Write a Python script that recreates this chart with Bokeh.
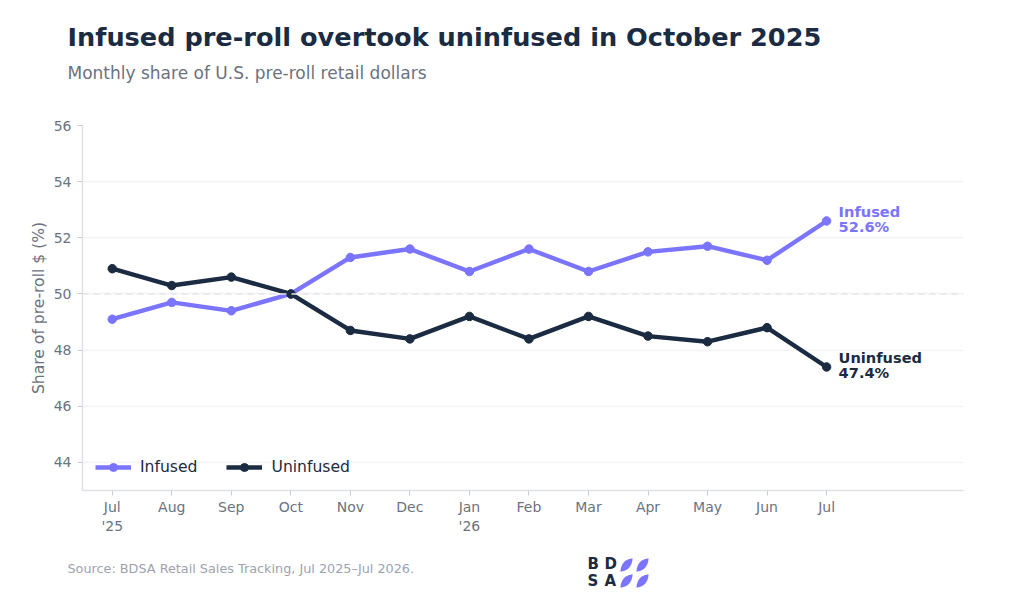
import math
from bokeh.plotting import figure
from bokeh.layouts import column
from bokeh.core.properties import value
from bokeh.models import FixedTicker, Legend, LegendItem, ColumnDataSource, Range1d, Span, LinearAxis
from bokeh.embed import file_html
from bokeh.resources import INLINE

months = ["Jul","Aug","Sep","Oct","Nov","Dec","Jan","Feb","Mar","Apr","May","Jun","Jul"]
year_marks = {0: "'25", 6: "'26"}
infused = [49.1,49.7,49.4,50.0,51.3,51.6,50.8,51.6,50.8,51.5,51.7,51.2,52.6]
uninfused = [50.9,50.3,50.6,50.0,48.7,48.4,49.2,48.4,49.2,48.5,48.3,48.8,47.4]
y_ticks = [44,46,48,50,52,54,56]
PURPLE = "#7B74FF"
NAVY = "#1A2B42"
GRAY = "#6B7280"
FONT = "DejaVu Sans"
W, H = 1024, 594
HEAD, FOOT = 100, 54
xs = list(range(len(months)))

def blank(height, top):
    f = figure(width=W, height=height, output_backend="svg", toolbar_location=None,
               x_range=Range1d(0, W), y_range=Range1d(top + height, top),
               min_border=0, background_fill_color="white", border_fill_color="white",
               frame_align=False)
    f.outline_line_color = None
    f.axis.visible = False
    f.grid.visible = False
    return f

def text(f, t, x, y, size, color, style="normal"):
    f.text(x=[x], y=[y], text=[t], text_font=value(FONT), text_font_size=size, text_color=color,
           text_font_style=style, text_baseline="alphabetic", text_align="left")

head = blank(HEAD, 0)
text(head, "Infused pre-roll overtook uninfused in October 2025", 67, 36, "25.6px", NAVY, "bold")
text(head, "Monthly share of U.S. pre-roll retail dollars", 67, 72, "17px", GRAY)

p = figure(width=W, height=H-HEAD-FOOT, output_backend="svg", toolbar_location=None,
           x_range=Range1d(-0.5, 14.3), y_range=Range1d(43, 56), frame_align=False,
           min_border_left=82, min_border_right=W-963, min_border_top=125-HEAD, min_border_bottom=H-FOOT-490,
           background_fill_color="white", border_fill_color="white")
p.outline_line_color = None
p.xgrid.visible = False
p.ygrid.ticker = FixedTicker(ticks=y_ticks)
p.ygrid.grid_line_color = "#F1F3F7"
p.ygrid.grid_line_width = 1.5

p.xaxis.ticker = FixedTicker(ticks=xs)
p.xaxis.major_label_overrides = {i: m for i, m in enumerate(months)}
p.yaxis.ticker = FixedTicker(ticks=y_ticks)
for ax in (p.xaxis[0], p.yaxis[0]):
    ax.axis_line_color = "#DFE1E6"
    ax.axis_line_width = 1.5
    ax.major_tick_line_color = "#C9CCD2"
    ax.major_tick_out = 5
    ax.major_tick_in = 0
    ax.minor_tick_line_color = None
    ax.major_label_text_color = GRAY
    ax.major_label_text_font = FONT
    ax.major_label_text_font_size = "14px"
p.xaxis.major_label_standoff = 3
p.yaxis.major_label_standoff = 6
p.yaxis.axis_label = "Share of pre-roll $ (%)"
p.yaxis.axis_label_text_font = FONT
p.yaxis.axis_label_text_font_style = "normal"
p.yaxis.axis_label_text_font_size = "15.6px"
p.yaxis.axis_label_text_color = GRAY
p.yaxis.axis_label_standoff = 3

years = LinearAxis(ticker=FixedTicker(ticks=list(year_marks)), major_label_overrides=year_marks,
                   axis_line_color=None, major_tick_line_color=None, minor_tick_line_color=None,
                   major_label_text_color=GRAY, major_label_text_font=FONT,
                   major_label_text_font_size="14px", major_label_standoff=0,
                   major_tick_in=0, major_tick_out=0)
p.add_layout(years, "below")

p.add_layout(Span(location=50, dimension="width", line_color="#E3E5EA", line_width=1.5, line_dash=[6, 5]))

items = []
for name, vals, col in (("Infused", infused, PURPLE), ("Uninfused", uninfused, NAVY)):
    src = ColumnDataSource(dict(x=xs, y=vals))
    l = p.line("x", "y", source=src, line_color=col, line_width=4.4)
    c = p.scatter("x", "y", source=src, size=8.5, fill_color=col, line_color=col)
    items.append(LegendItem(label=name, renderers=[l, c]))
    end = ColumnDataSource(dict(x=[xs[-1]], y=[vals[-1]], t=[f"{name}\n{vals[-1]:.1f}%"]))
    p.text("x", "y", text="t", source=end, x_offset=12, y_offset=-2, text_color=col,
           text_font=value(FONT), text_font_style="bold", text_font_size="14.6px",
           text_baseline="middle", text_line_height=0.88)

leg = Legend(items=items, orientation="horizontal", location="bottom_left",
             background_fill_alpha=0, border_line_alpha=0, label_text_font=FONT,
             label_text_font_size="15.6px", label_text_color=NAVY, glyph_width=36, glyph_height=20,
             spacing=29, margin=4, padding=9, label_standoff=9)
p.add_layout(leg)

foot = blank(FOOT, H-FOOT)
text(foot, "Source: BDSA Retail Sales Tracking, Jul 2025–Jul 2026.", 67, 568, "12.8px", "#9CA3AF")
for t, x, y in (("B", 587, 563), ("D", 604, 563), ("S", 587, 580), ("A", 604, 580)):
    text(foot, t, x, y, "15px", NAVY, "bold")

leaf_t = [2*math.pi*i/32 for i in range(32)]
def leaf(cx, cy, length=18, width=7.5, angle=48):
    a = math.radians(angle)
    us = [length/2*math.cos(t) for t in leaf_t]
    vs = [width/2*math.copysign(math.sin(t)**2, math.sin(t)) for t in leaf_t]
    return ([cx+u*math.cos(a)-v*math.sin(a) for u, v in zip(us, vs)],
            [cy-u*math.sin(a)-v*math.cos(a) for u, v in zip(us, vs)])

for cx, cy in ((626, 564.5), (642, 564.5), (626, 580.5), (642, 580.5)):
    lx, ly = leaf(cx, cy)
    foot.patch(lx, ly, fill_color=PURPLE, line_color=None)

page = column(head, p, foot, spacing=0)
open("out.html", "w").write(file_html(page, INLINE))
